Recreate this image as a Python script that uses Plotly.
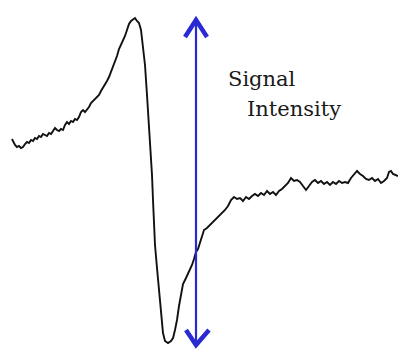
import plotly.graph_objects as go

# Signal trace (pixel-space coordinates, y downward)
sig_x = [12,13,15,17,19,21,23,25,27,29,31,33,35,37,39,41,43,45,47,49,51,53,55,57,59,61,63,65,67,69,
         71,73,75,77,79,81,83,85,87,89,91,93,95,97,99,101,103,105,107,109,111,113,115,117,119,121,123,125,127,129,
         131,133,135,137,139,141,143,145,147,148,150,151,152,153,154,155,157,159,161,163,
         165,168,171,173,175,177,179,181,183,186,189,192,194,196,198,200,202,204,207,210,213,216,219,222,225,228,231,234,237,240,
         243,246,249,252,255,258,261,264,267,270,273,276,279,282,285,288,291,294,297,300,303,306,309,312,315,318,321,324,327,330,
         333,336,339,342,345,348,351,354,357,360,363,366,369,372,375,378,381,384,387,389,391,393,396,398]
sig_y = [139,141,145,147,146,148,147,144,142,143,140,141,138,139,136,137,134,135,136,133,134,131,128,130,131,129,130,125,122,124,
         121,122,119,120,117,112,110,112,110,107,103,101,98,97,95,91,88,85,81,77,72,68,62,56,49,45,41,36,30,24,
         21,19,18,21,23,30,47,65,95,110,140,158,175,200,230,245,268,290,310,333,
         341,343,341,338,330,320,306,294,284,278,272,265,259,252,249,243,236,230,228,225,222,220,217,213,210,206,200,197,199,198,
         201,197,199,196,194,196,193,195,191,194,192,195,191,189,186,183,178,181,180,182,186,190,186,182,180,183,181,184,182,185,
         182,184,181,183,182,183,178,174,171,174,176,179,180,178,181,179,183,181,178,172,171,174,175,176]

# Double-headed arrow marking the signal intensity
arrow_x = 196
arrow_top = 20
arrow_bottom = 345
head_len = 17
head_half = 11

labels = ["Signal", "Intensity"]
label_x = [226, 245]
label_y = [79, 109]

blue = "#2a2ad2"
fig = go.Figure()
fig.add_trace(go.Scatter(x=sig_x, y=sig_y, mode="lines",
                         line=dict(color="#111111", width=1.9), hoverinfo="skip"))
# shaft
fig.add_trace(go.Scatter(x=[arrow_x, arrow_x], y=[arrow_top + 2, arrow_bottom - 2], mode="lines",
                         line=dict(color=blue, width=2.2), hoverinfo="skip"))
# heads
fig.add_trace(go.Scatter(x=[arrow_x - head_half, arrow_x, arrow_x + head_half],
                         y=[arrow_top + head_len, arrow_top, arrow_top + head_len], mode="lines",
                         line=dict(color=blue, width=4.5), hoverinfo="skip"))
fig.add_trace(go.Scatter(x=[arrow_x - head_half + 1, arrow_x, arrow_x + head_half + 2],
                         y=[arrow_bottom - head_len + 2, arrow_bottom, arrow_bottom - head_len + 2], mode="lines",
                         line=dict(color=blue, width=4.5), hoverinfo="skip"))

for t, x, y in zip(labels, label_x, label_y):
    fig.add_annotation(x=x, y=y, text=t, showarrow=False, xanchor="left", yanchor="middle",
                       font=dict(family="DejaVu Serif", size=21, color="#1a1a1a"))

fig.update_layout(width=398, height=349, margin=dict(l=0, r=0, t=0, b=0),
                  paper_bgcolor="white", plot_bgcolor="white", showlegend=False,
                  xaxis=dict(range=[0, 398], visible=False, fixedrange=True),
                  yaxis=dict(range=[349, 0], visible=False, fixedrange=True))
fig.write_html("out.html", config={"displayModeBar": False},
               post_script="document.body.style.margin='0';document.body.style.overflow='hidden';")
